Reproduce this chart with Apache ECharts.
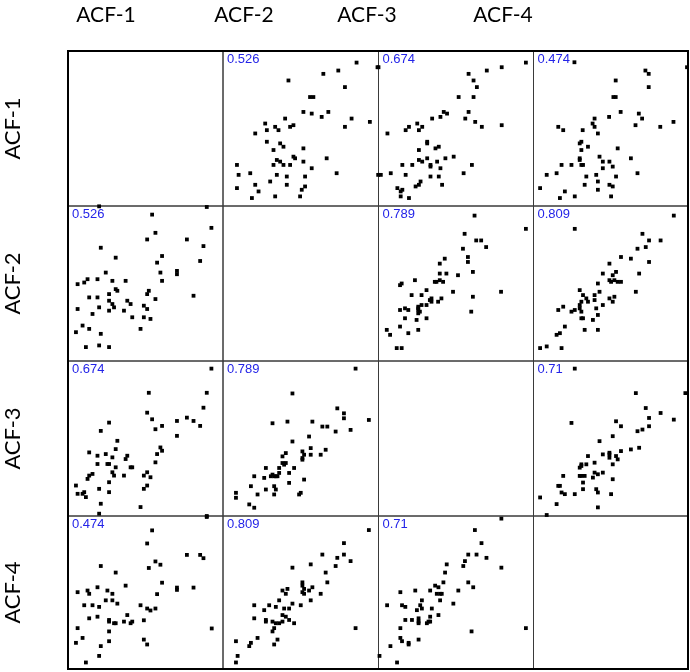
<!DOCTYPE html>
<html>
<head>
<meta charset="utf-8">
<script src="https://cdn.jsdelivr.net/npm/echarts@6/dist/echarts.min.js"></script>
<style>html,body{margin:0;padding:0;background:#fff}#c{width:690px;height:672px}</style>
</head>
<body>
<div id="c"></div>
<script>
// Variable names
const variables = ['ACF-1', 'ACF-2', 'ACF-3', 'ACF-4'];

// Scaled values (arbitrary units, 0..470).
// Each entry: [x = column variable, y = row variable]
const pair_1_2 = [[405,436],[468,422],[305,402],[350,412],[200,382],[370,362],[265,332],[275,332],[245,287],[270,282],[320,287],[300,272],[190,267],[390,267],[445,257],[370,242],[130,252],[160,242],[170,232],[135,232],[205,242],[215,247],[100,222],[135,197],[175,192],[185,182],[155,172],[245,177],[215,152],[220,147],[165,142],[175,137],[185,127],[155,127],[205,127],[245,137],[315,147],[270,117],[45,127],[50,97],[85,102],[165,97],[195,92],[250,92],[345,102],[145,77],[100,67],[195,67],[250,62],[240,52],[45,57],[110,47],[90,27],[160,32],[235,32],[470,97]];
const pair_1_3 = [[448,436],[3,422],[375,422],[330,412],[275,402],[290,382],[300,362],[245,332],[290,332],[275,287],[200,287],[210,282],[190,272],[165,267],[265,267],[295,257],[315,242],[375,247],[120,252],[135,242],[95,242],[85,232],[125,232],[30,222],[150,197],[150,192],[185,182],[175,177],[125,172],[230,152],[205,147],[150,147],[125,142],[135,137],[180,137],[160,127],[160,122],[105,127],[75,127],[190,117],[285,127],[10,97],[40,102],[85,97],[160,92],[185,92],[260,102],[130,77],[125,67],[115,62],[195,67],[60,57],[75,52],[70,47],[70,32],[95,27]];
const pair_1_4 = [[127,437],[468,422],[342,412],[352,402],[252,382],[352,362],[245,332],[252,332],[232,272],[267,287],[322,282],[332,267],[312,247],[387,242],[427,257],[188,267],[182,252],[188,242],[78,242],[93,232],[152,232],[198,222],[148,197],[143,192],[168,182],[148,172],[258,177],[203,152],[143,147],[143,142],[298,147],[213,137],[233,137],[148,127],[153,127],[88,127],[118,127],[243,122],[213,117],[43,97],[73,102],[163,92],[193,97],[253,92],[318,102],[158,67],[198,77],[233,67],[243,62],[23,57],[98,47],[198,52],[128,32],[238,32],[83,27]];
const pair_2_3 = [[293,442],[448,402],[263,387],[298,367],[313,367],[328,347],[258,342],[273,317],[273,302],[203,312],[188,297],[288,272],[243,262],[188,267],[208,267],[178,242],[173,242],[198,242],[188,247],[113,247],[73,237],[68,232],[228,212],[373,212],[148,217],[133,202],[103,202],[288,197],[163,192],[158,187],[163,182],[193,192],[183,182],[148,172],[133,172],[123,167],[123,162],[123,157],[128,152],[123,147],[83,162],[93,157],[68,157],[283,152],[83,132],[118,127],[148,132],[68,107],[28,97],[38,82],[93,87],[123,97],[58,42],[73,42]];
const pair_2_4 = [[428,442],[128,402],[333,387],[353,367],[388,367],[343,347],[318,342],[268,317],[298,312],[353,302],[233,297],[213,267],[243,262],[253,272],[323,267],[233,247],[238,242],[248,247],[258,242],[268,242],[198,237],[313,212],[203,212],[143,217],[153,202],[188,202],[163,192],[168,182],[188,187],[233,192],[248,197],[243,182],[148,182],[143,172],[213,172],[193,162],[143,162],[148,152],[128,157],[118,152],[78,157],[93,167],[198,142],[148,132],[153,132],[183,127],[98,107],[158,97],[198,97],[73,82],[83,87],[23,42],[43,47],[88,42]];
const pair_3_4 = [[128,448],[463,374],[313,374],[343,329],[388,314],[428,294],[353,299],[353,274],[118,284],[253,289],[268,274],[318,259],[333,264],[243,244],[203,229],[323,209],[298,204],[268,199],[233,194],[233,189],[233,179],[253,184],[258,174],[213,189],[168,184],[243,159],[188,164],[163,159],[148,159],[143,149],[148,154],[188,134],[198,129],[213,134],[183,119],[143,124],[148,124],[158,124],[93,124],[153,104],[243,114],[78,94],[83,94],[153,84],[193,84],[198,74],[88,74],[98,69],[128,69],[238,69],[23,59],[73,39],[198,29],[43,6]];

// Correlation coefficients shown in the panels
const corr_1_2 = 0.526, corr_1_3 = 0.674, corr_1_4 = 0.474, corr_2_3 = 0.789, corr_2_4 = 0.809, corr_3_4 = 0.71;

const pairs = {'0_1': pair_1_2, '0_2': pair_1_3, '0_3': pair_1_4, '1_2': pair_2_3, '1_3': pair_2_4, '2_3': pair_3_4};
const corrs = {'0_1': corr_1_2, '0_2': corr_1_3, '0_3': corr_1_4, '1_2': corr_2_3, '1_3': corr_2_4, '2_3': corr_3_4};

// Layout
const colLeft = [68, 223, 378.5, 533.5];
const colW = [155, 155.5, 155, 154.5];
const rowTop = [51, 206, 361, 516];
const rowH = [155, 155, 155, 153];
const topLabelCx = [106, 244, 367, 503];

const grids = [], xAxes = [], yAxes = [], series = [], graphics = [];
let gi = 0;
for (let i = 0; i < 4; i++) {
  for (let j = 0; j < 4; j++) {
    grids.push({left: colLeft[j], top: rowTop[i], width: colW[j], height: rowH[i],
      show: true, borderColor: '#3a3a3a', borderWidth: 1, backgroundColor: 'transparent'});
    xAxes.push({gridIndex: gi, type: 'value', min: 3, max: 471, show: false});
    yAxes.push({gridIndex: gi, type: 'value', min: 3, max: 471, show: false});
    if (i !== j) {
      const key = i < j ? i + '_' + j : j + '_' + i;
      const raw = pairs[key];
      const data = i < j ? raw.map(p => [p[0], p[1]]) : raw.map(p => [p[1], p[0]]);
      series.push({type: 'scatter', xAxisIndex: gi, yAxisIndex: gi, data: data,
        symbol: 'rect', symbolSize: 3.8, itemStyle: {color: '#000', opacity: 1}, silent: true, animation: false});
      graphics.push({type: 'text', left: colLeft[j] + 4, top: rowTop[i] + 2,
        style: {text: String(corrs[key]), fill: '#2424e8', font: '13px "Liberation Sans", Arial, sans-serif'}});
    }
    gi++;
  }
}
// Outer frame
grids.push({left: 68, top: 51, width: 620, height: 618, show: true, borderColor: '#000', borderWidth: 2, backgroundColor: 'transparent'});
xAxes.push({gridIndex: gi, type: 'value', min: 0, max: 1, show: false});
yAxes.push({gridIndex: gi, type: 'value', min: 0, max: 1, show: false});

// Variable labels
for (let k = 0; k < 4; k++) {
  graphics.push({type: 'text', x: topLabelCx[k], y: 15,
    style: {text: variables[k], fill: '#000', font: '21px Lato, "Open Sans", sans-serif', align: 'center', verticalAlign: 'middle'}});
  graphics.push({type: 'text', x: 13, y: rowTop[k] + rowH[k] / 2, rotation: Math.PI / 2,
    style: {text: variables[k], fill: '#000', font: '22px Lato, "Open Sans", sans-serif', align: 'center', verticalAlign: 'middle'}});
}

const chart = echarts.init(document.getElementById('c'));
chart.setOption({animation: false, grid: grids, xAxis: xAxes, yAxis: yAxes, series: series, graphic: graphics});
</script>
</body>
</html>
